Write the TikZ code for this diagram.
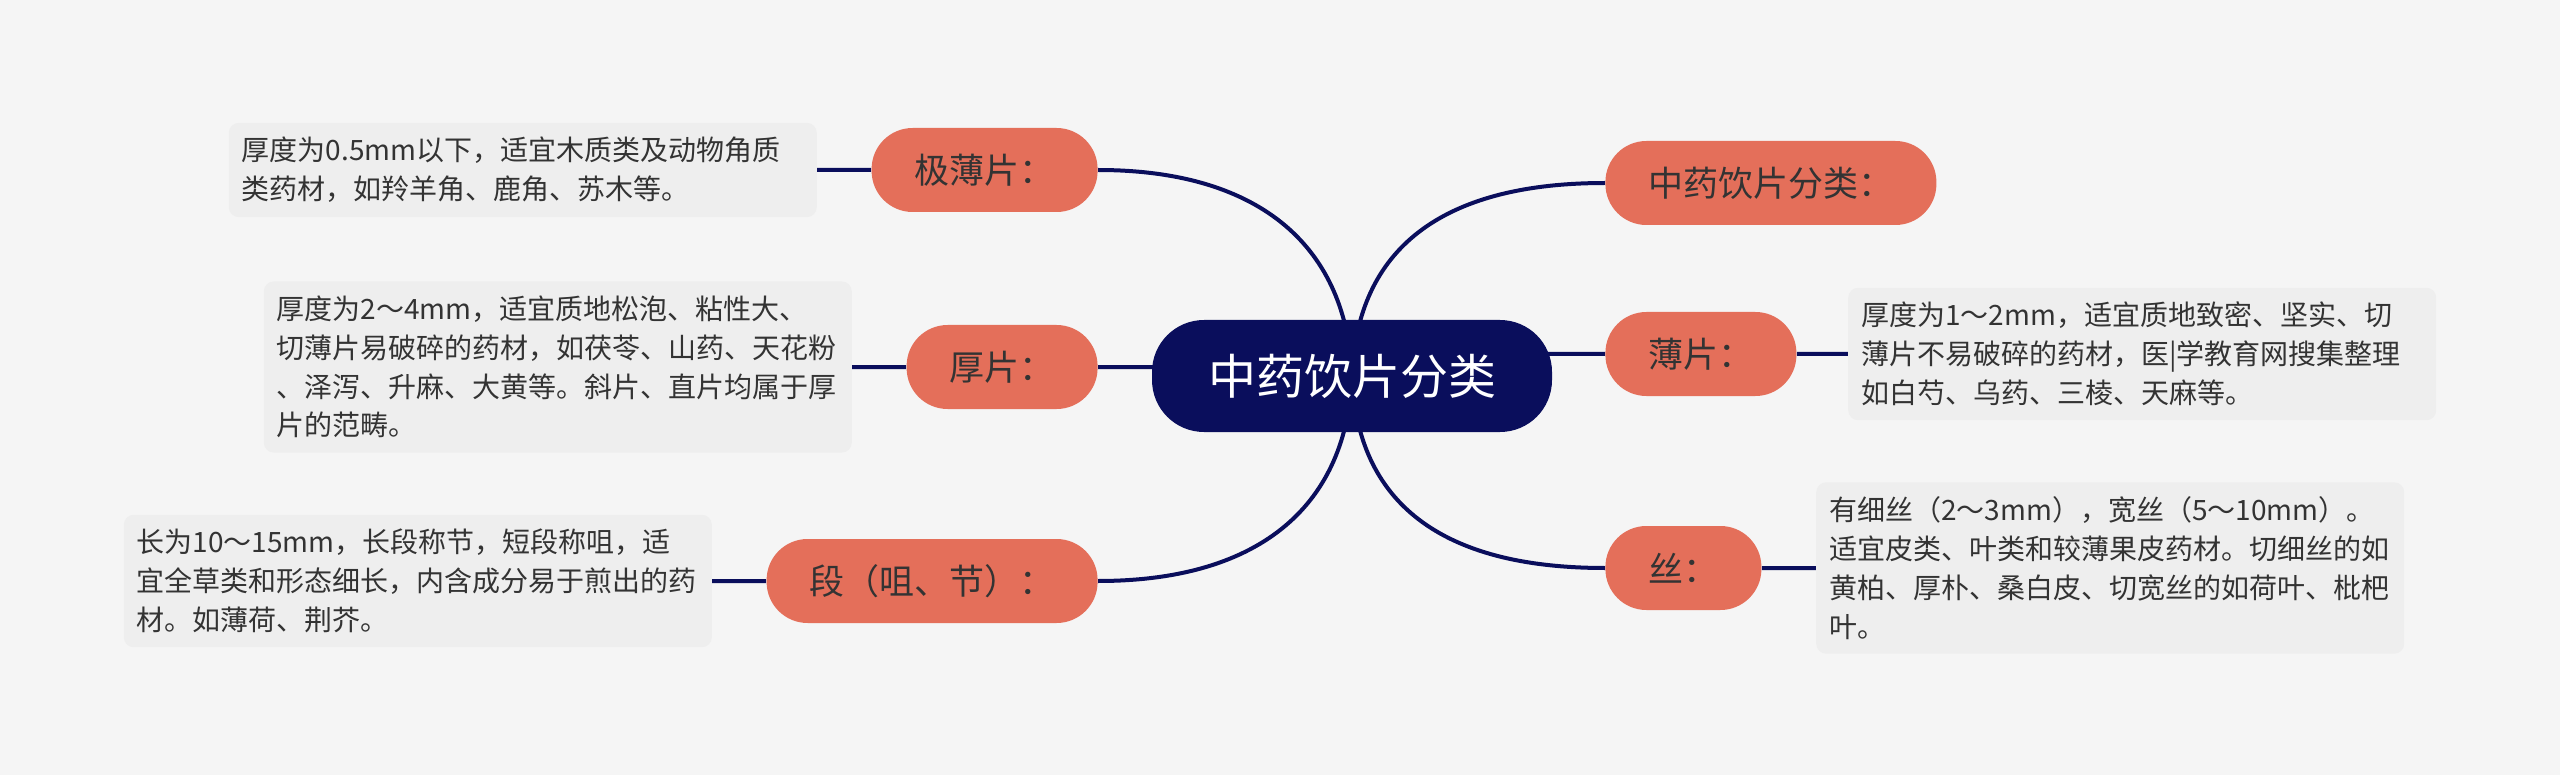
\documentclass[tikz,border=0pt]{standalone}
\usepackage{fontspec}
\setmainfont{Noto Sans CJK SC}
\usepackage{xcolor}
\usepackage{tikz}
\usetikzlibrary{positioning}
\usetikzlibrary{backgrounds}
\definecolor{navy}{HTML}{0A0E5C}
\definecolor{coral}{HTML}{E46F5A}
\definecolor{paper}{HTML}{F5F5F5}
\definecolor{notefill}{HTML}{EEEEEE}
\definecolor{ink}{HTML}{333333}
\tikzset{root node/.style={rectangle,rounded corners=26pt,fill=navy,text=white,font=\fontsize{24}{28}\selectfont,minimum height=56pt,inner xsep=28pt,inner ysep=0pt},
	topic node/.style={rectangle,rounded corners=20.5pt,fill=coral,text=ink,font=\fontsize{17.5}{20}\selectfont,minimum height=42pt,inner xsep=21.5pt,inner ysep=0pt},
	note node/.style={rectangle,rounded corners=5pt,fill=notefill,text=ink,font=\fontsize{14}{19.4}\selectfont,text width=281pt,align=left,inner xsep=6.5pt,inner ysep=7.2pt},
	link/.style={draw=navy,line width=2pt},}

\begin{document}
\begin{tikzpicture}[x=0.5pt,y=-0.5pt]
	\useasboundingbox (0,0) rectangle (2560,775);
	
	\node[root node] (root) at (1352,376) {中药饮片分类};
	
	% left
	\node[topic node,anchor=east] (jbp) at (1098,170) {极薄片：};
	\node[topic node,anchor=east] (hp) at (1098,367) {厚片：};
	\node[topic node,anchor=east] (duan) at (1098,581) {段（咀、节）：};
	% right
	\node[topic node,anchor=west] (title) at (1605,183) {中药饮片分类：};
	\node[topic node,anchor=west] (bp) at (1605,354) {薄片：};
	\node[topic node,anchor=west] (si) at (1605,568) {丝：};
	
	\node[note node] (jbpnote) [left = 27pt of jbp] {厚度为0.5mm以下，适宜木质类及动物角质\\类药材，如羚羊角、鹿角、苏木等。};
	\node[note node] (hpnote) [left = 27pt of hp] {厚度为2～4mm，适宜质地松泡、粘性大、\\切薄片易破碎的药材，如茯苓、山药、天花粉\\、泽泻、升麻、大黄等。斜片、直片均属于厚\\片的范畴。};
	\node[note node] (duannote) [left = 27pt of duan] {长为10～15mm，长段称节，短段称咀，适\\宜全草类和形态细长，内含成分易于煎出的药\\材。如薄荷、荆芥。};
	\node[note node] (bpnote) [right = 25.5pt of bp] {厚度为1～2mm，适宜质地致密、坚实、切\\薄片不易破碎的药材，医|学教育网搜集整理\\如白芍、乌药、三棱、天麻等。};
	\node[note node] (sinote) [right = 27pt of si] {有细丝（2～3mm），宽丝（5～10mm）。\\适宜皮类、叶类和较薄果皮药材。切细丝的如\\黄柏、厚朴、桑白皮、切宽丝的如荷叶、枇杷\\叶。};
	
	\begin{scope}[on background layer]
	\fill[paper] (0,0) rectangle (2560,775);
	\path[link]
	(root.center) .. controls +(-5,-126) and +(166,0) .. (jbp.east)
	(hp.east) -- (hp.east -| root.center)
	(root.center) .. controls +(-5,126) and +(166,0) .. (duan.east)
	(root.center) .. controls +(5,-126) and +(-165,0) .. (title.west)
	(bp.west) -- (bp.west -| root.center)
	(root.center) .. controls +(5,126) and +(-165,0) .. (si.west)
	(jbpnote) -- (jbp)
	(hpnote) -- (hp)
	(duannote) -- (duan)
	(bpnote) -- (bp)
	(sinote) -- (si)
	;
	\end{scope}
	
\end{tikzpicture}
\end{document}
